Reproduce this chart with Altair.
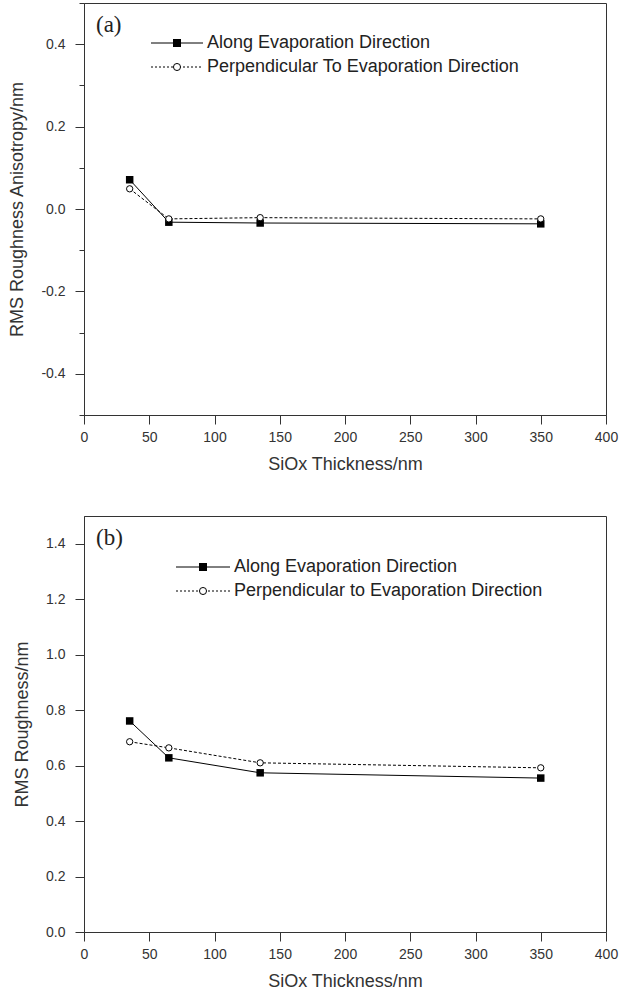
import altair as alt
import pandas as pd

# ---- data ----
thickness = [35, 65, 135, 350]
a_along = [0.071, -0.032, -0.034, -0.036]
a_perp = [0.049, -0.024, -0.021, -0.024]
b_along = [0.761, 0.628, 0.574, 0.555]
b_perp = [0.686, 0.664, 0.610, 0.592]

x_ticks = list(range(0, 401, 25))
a_ticks = [round(-0.5 + 0.1 * i, 1) for i in range(11)]
b_ticks = [round(0.1 * i, 1) for i in range(16)]

a_legend = ["Along Evaporation Direction", "Perpendicular To Evaporation Direction"]
b_legend = ["Along Evaporation Direction", "Perpendicular to Evaporation Direction"]

FONT = "Liberation Sans"
AX = "#333333"
W = 522

XMAJ = "datum.value % 50 === 0"
YMAJ = "round(abs(datum.value) * 10) % 2 === 0"


def panel(along, perp, ydom, yticks, ytitle, legend, tag, leg, h):
    df_a = pd.DataFrame({"x": thickness, "y": along})
    df_p = pd.DataFrame({"x": thickness, "y": perp})

    xenc = alt.X(
        "x:Q",
        scale=alt.Scale(domain=[0, 400], nice=False, zero=False),
        axis=alt.Axis(
            title="SiOx Thickness/nm",
            values=x_ticks,
            labelExpr=XMAJ + " ? datum.label : ''",
            tickSize={"condition": {"test": XMAJ, "value": 9}, "value": 4},
            labelFontSize={"condition": {"test": XMAJ, "value": 14}, "value": 0},
            labelFlush=False,
            labelOverlap=False,
            grid=False,
            domainColor=AX,
            tickColor=AX,
            labelColor=AX,
            labelFont=FONT,
            labelPadding=6,
            titleFont=FONT,
            titleFontSize=18,
            titleFontWeight="normal",
            titleColor=AX,
            titlePadding=11,
        ),
    )
    yenc = alt.Y(
        "y:Q",
        scale=alt.Scale(domain=ydom, nice=False, zero=False),
        axis=alt.Axis(
            title=ytitle,
            values=yticks,
            format=".1f",
            labelExpr=YMAJ + " ? replace(datum.label, '\u2212', '-') : ''",
            tickSize={"condition": {"test": YMAJ, "value": 9}, "value": 5},
            labelFontSize={"condition": {"test": YMAJ, "value": 14}, "value": 0},
            labelFlush=False,
            labelOverlap=False,
            grid=False,
            domainColor=AX,
            tickColor=AX,
            labelColor=AX,
            labelFont=FONT,
            labelPadding=10,
            titleFont=FONT,
            titleFontSize=18,
            titleFontWeight="normal",
            titleColor=AX,
            titlePadding=14,
        ),
    )

    line_a = alt.Chart(df_a).mark_line(color="black", strokeWidth=1).encode(x=xenc, y=yenc)
    line_p = alt.Chart(df_p).mark_line(color="black", strokeWidth=1, strokeDash=[3, 2]).encode(x="x:Q", y="y:Q")
    pts_a = alt.Chart(df_a).mark_point(shape="square", filled=True, color="black", size=56, opacity=1).encode(x="x:Q", y="y:Q")
    pts_p = alt.Chart(df_p).mark_point(shape="circle", filled=True, fill="white", stroke="black", strokeWidth=1, size=40, opacity=1).encode(x="x:Q", y="y:Q")

    one = alt.Data(values=[{"k": 1}])
    lx0, lx1, lm, lt, ly1, ly2 = leg
    leg_layers = [
        alt.Chart(one).mark_rule(color="black", strokeWidth=1).encode(x=alt.value(lx0), x2=alt.value(lx1), y=alt.value(ly1)),
        alt.Chart(one).mark_rule(color="black", strokeWidth=1, strokeDash=[2, 2]).encode(x=alt.value(lx0), x2=alt.value(lx1), y=alt.value(ly2)),
        alt.Chart(one).mark_point(shape="square", filled=True, color="black", size=64, opacity=1).encode(x=alt.value(lm), y=alt.value(ly1)),
        alt.Chart(one).mark_point(shape="circle", filled=True, fill="white", stroke="black", strokeWidth=1, size=50, opacity=1).encode(x=alt.value(lm), y=alt.value(ly2)),
        alt.Chart(one).mark_text(align="left", baseline="middle", font=FONT, fontSize=18, color="#222").encode(x=alt.value(lt), y=alt.value(ly1), text=alt.value(legend[0])),
        alt.Chart(one).mark_text(align="left", baseline="middle", font=FONT, fontSize=18, color="#222").encode(x=alt.value(lt), y=alt.value(ly2), text=alt.value(legend[1])),
        alt.Chart(one).mark_text(align="left", baseline="alphabetic", font="Liberation Serif", fontSize=23, color="#222").encode(x=alt.value(12), y=alt.value(29), text=alt.value(tag)),
    ]

    return alt.layer(line_a, line_p, pts_a, pts_p, *leg_layers).properties(width=W, height=h)


top = panel(a_along, a_perp, [-0.5, 0.5], a_ticks, "RMS Roughness Anisotropy/nm", a_legend, "(a)",
            (67, 119, 93, 123, 40, 64), 412)
bottom = panel(b_along, b_perp, [0.0, 1.5], b_ticks, "RMS Roughness/nm", b_legend, "(b)",
               (92, 146, 119, 150, 51, 75), 416)

chart = (
    alt.vconcat(top, bottom, spacing=41)
    .properties(padding={"left": 8, "top": 2, "right": 5, "bottom": 5}, background="white")
    .configure_view(stroke=AX, strokeWidth=1)
)

chart.save("out.html", embed_options={"renderer": "svg", "actions": False})
